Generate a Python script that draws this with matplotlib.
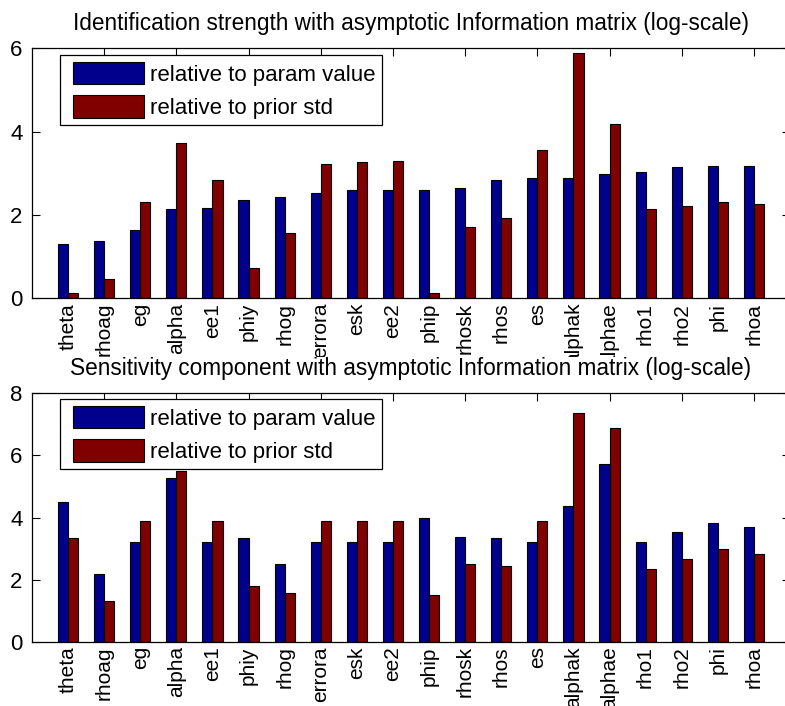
import matplotlib
matplotlib.use("Agg")
import matplotlib.pyplot as plt
import matplotlib.transforms as mtransforms
from matplotlib.container import BarContainer
from matplotlib.legend_handler import HandlerPatch, update_from_first_child
import numpy as np

plt.rcParams['font.family'] = ['Liberation Sans', 'DejaVu Sans']
plt.rcParams['font.size'] = 16

labels = ['theta', 'rhoag', 'eg', 'alpha', 'ee1', 'phiy', 'rhog', 'errora', 'esk', 'ee2',
          'phip', 'rhosk', 'rhos', 'es', 'alphak', 'alphae', 'rho1', 'rho2', 'phi', 'rhoa']

ident_param = [1.30, 1.38, 1.64, 2.14, 2.17, 2.35, 2.42, 2.52, 2.60, 2.60,
               2.60, 2.64, 2.84, 2.88, 2.88, 2.98, 3.04, 3.14, 3.18, 3.18]
ident_prior = [0.13, 0.47, 2.30, 3.72, 2.84, 0.72, 1.56, 3.22, 3.26, 3.30,
               0.13, 1.72, 1.93, 3.56, 5.88, 4.18, 2.14, 2.22, 2.30, 2.26]

sens_param = [4.50, 2.18, 3.22, 5.27, 3.22, 3.33, 2.50, 3.22, 3.22, 3.22,
              3.99, 3.38, 3.33, 3.22, 4.38, 5.71, 3.22, 3.54, 3.83, 3.71]
sens_prior = [3.33, 1.30, 3.88, 5.50, 3.88, 1.79, 1.57, 3.88, 3.88, 3.88,
              1.51, 2.50, 2.45, 3.88, 7.36, 6.88, 2.33, 2.66, 3.00, 2.84]

legend_labels = ['relative to param value', 'relative to prior std']
titles = ['Identification strength with asymptotic Information matrix (log-scale)',
          'Sensitivity component with asymptotic Information matrix (log-scale)']

W, H = 785, 706
fig = plt.figure(figsize=(W / 100, H / 100), dpi=100)
fig.patch.set_facecolor('white')

def ax_rect(left, top, right, bottom):
    return [left / W, 1 - bottom / H, (right - left) / W, (bottom - top) / H]

ax1 = fig.add_axes(ax_rect(32, 48.3, 790, 298.3))
ax2 = fig.add_axes(ax_rect(32, 393.3, 790, 641.7))

blue = '#00008C'
red = '#800000'
bw = 0.28

panels = [
    (ax1, ident_param, ident_prior, 6, [0, 2, 4, 6], titles[0], 55.0, False),
    (ax2, sens_param, sens_prior, 8, [0, 2, 4, 6, 8], titles[1], 399.0, True),
]

x = np.arange(1, len(labels) + 1)
for ax, p, q, ymax, yt, title, leg_top, white_title in panels:
    ax.bar(x - bw / 2, p, width=bw, color=blue, edgecolor='black', linewidth=0.8,
           label=legend_labels[0])
    ax.bar(x + bw / 2, q, width=bw, color=red, edgecolor='black', linewidth=0.8,
           label=legend_labels[1])
    ax.set_xlim(0, 21)
    ax.set_ylim(0, ymax)
    ax.set_yticks(yt)
    ax.set_xticks(range(2, 21, 2))
    ax.tick_params(axis='both', direction='in', top=True, right=True, length=5.8,
                   width=0.8, labelbottom=False, labelsize=16, pad=6.8, colors='black')
    for s in ax.spines.values():
        s.set_linewidth(0.9)
        s.set_color('black')
    trans = mtransforms.blended_transform_factory(ax.transData, ax.transAxes) + \
        mtransforms.ScaledTranslation(0, -4.5 / 100, fig.dpi_scale_trans)
    for xi, lab in zip(x, labels):
        ax.text(xi, 0, lab, transform=trans, rotation=90, ha='center', va='top',
                fontsize=15, clip_on=False)
    if white_title:
        ax.set_title(title, fontsize=16.3, pad=13,
                     bbox=dict(facecolor='white', edgecolor='none', pad=0))
    else:
        ax.set_title(title, fontsize=16.3, pad=13)
    hm = {BarContainer: HandlerPatch(xpad=0.3, update_func=update_from_first_child)}
    leg = ax.legend(loc='upper left', bbox_to_anchor=(60 / W, 1 - leg_top / H),
                    bbox_transform=fig.transFigure, borderaxespad=0, fontsize=16,
                    handlelength=3.5, handleheight=1.2, handletextpad=0.26,
                    labelspacing=0.42, borderpad=0.3, fancybox=False, framealpha=1,
                    edgecolor='black', handler_map=hm)
    leg.get_frame().set_linewidth(0.9)

fig.savefig('out.png', dpi=100, facecolor='white')
